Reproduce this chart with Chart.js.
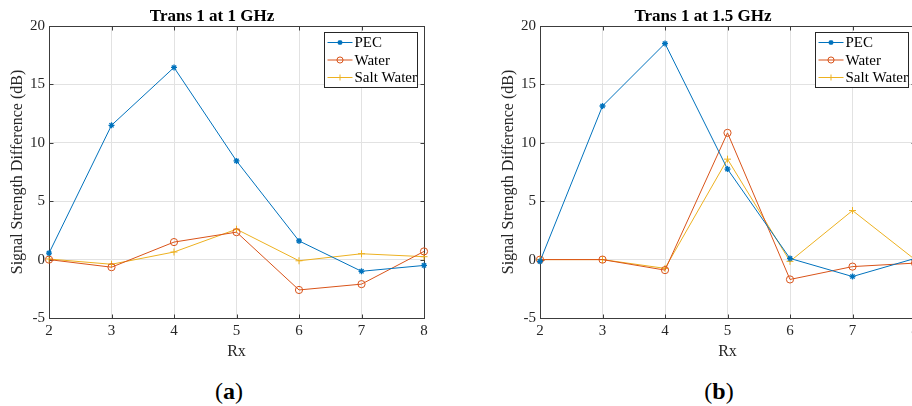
<!DOCTYPE html>
<html>
<head>
<meta charset="utf-8">
<script src="https://cdn.jsdelivr.net/npm/chart.js@4.4.0/dist/chart.umd.min.js"></script>
<style>
  body { margin: 0; width: 912px; height: 406px; overflow: hidden; background: #fff; position: relative; }
  canvas { position: absolute; top: 0; }
  #chartA { left: 0; }
  #chartB { left: 491px; }
  .caption { position: absolute; top: 379px; width: 60px; text-align: center; font-family: "Liberation Serif", serif; font-weight: normal; font-size: 24px; line-height: 24px; color: #000; }
</style>
</head>
<body>
<canvas id="chartA" width="440" height="370"></canvas>
<canvas id="chartB" width="440" height="370"></canvas>
<div class="caption" style="left:199px">(<b>a</b>)</div>
<div class="caption" style="left:689px">(<b>b</b>)</div>
<script>
// data
const rxLabels = [2, 3, 4, 5, 6, 7, 8];
const yTicks = [-5, 0, 5, 10, 15, 20];
const seriesNames = ['PEC', 'Water', 'Salt Water'];

// Trans 1 at 1 GHz
const pec1 = [0.55, 11.5, 16.45, 8.45, 1.6, -1.0, -0.5];
const water1 = [0, -0.65, 1.5, 2.35, -2.6, -2.1, 0.7];
const salt1 = [0.05, -0.4, 0.65, 2.6, -0.1, 0.5, 0.25];

// Trans 1 at 1.5 GHz
const pec15 = [-0.15, 13.15, 18.5, 7.75, 0.1, -1.45, 0.1];
const water15 = [0, 0, -0.9, 10.85, -1.7, -0.6, -0.3];
const salt15 = [0, 0, -0.75, 8.6, -0.15, 4.2, 0];

const FONT = '"Liberation Serif", "Times New Roman", serif';
const colors = ['#0072BD', '#D95319', '#EDB120'];
const markers = [
    { pointStyle: 'star', radius: 3, borderWidth: 1.3 },
    { pointStyle: 'circle', radius: 3.6, borderWidth: 1 },
    { pointStyle: 'cross', radius: 3.5, borderWidth: 1 }
];

// matlab style box with inward tick marks
const boxPlugin = {
    id: 'matlabBox',
    beforeDatasetsDraw(chart) {
        const { ctx, chartArea: a, scales } = chart;
        const L = Math.round(a.left) + 0.5, R = Math.round(a.right) + 0.5;
        const T = Math.round(a.top) + 0.5, B = Math.round(a.bottom) + 0.5;
        ctx.save();
        ctx.strokeStyle = '#3c3c3c';
        ctx.lineWidth = 1;
        ctx.beginPath();
        scales.x.ticks.forEach(t => {
            const px = Math.round(scales.x.getPixelForValue(t.value)) + 0.5;
            ctx.moveTo(px, B); ctx.lineTo(px, B - 4);
            ctx.moveTo(px, T); ctx.lineTo(px, T + 4);
        });
        scales.y.ticks.forEach(t => {
            const py = Math.round(scales.y.getPixelForValue(t.value)) + 0.5;
            ctx.moveTo(L, py); ctx.lineTo(L + 4, py);
            ctx.moveTo(R, py); ctx.lineTo(R - 4, py);
        });
        ctx.stroke();
        ctx.strokeRect(L, T, R - L, B - T);
        ctx.restore();
    }
};

// legend box in the upper right corner
const legendPlugin = {
    id: 'boxLegend',
    afterDatasetsDraw(chart) {
        const { ctx, chartArea: a } = chart;
        const w = 93, h = 55;
        const x0 = Math.round(a.right - 7 - w) + 0.5, y0 = Math.round(a.top + 6) + 0.5;
        ctx.save();
        ctx.fillStyle = '#fff';
        ctx.fillRect(x0, y0, w, h);
        ctx.strokeStyle = '#262626';
        ctx.lineWidth = 1;
        ctx.strokeRect(x0, y0, w, h);
        chart.data.datasets.forEach((ds, i) => {
            const cy = y0 + 10 + i * 17.5;
            ctx.strokeStyle = ds.borderColor;
            ctx.lineWidth = 1;
            ctx.beginPath();
            ctx.moveTo(x0 + 3, cy);
            ctx.lineTo(x0 + 28, cy);
            ctx.stroke();
            ctx.fillStyle = ds.pointBackgroundColor;
            ctx.lineWidth = markers[i].borderWidth;
            Chart.helpers.drawPoint(ctx, { pointStyle: markers[i].pointStyle, radius: markers[i].radius * 0.85, rotation: 0, borderWidth: markers[i].borderWidth }, x0 + 15.5, cy);
            ctx.fillStyle = '#000';
            ctx.font = '15px ' + FONT;
            ctx.textBaseline = 'middle';
            ctx.textAlign = 'left';
            ctx.fillText(ds.label, x0 + 30, cy + 1);
        });
        ctx.restore();
    }
};

function makeChart(id, title, pec, water, salt) {
    const series = [pec, water, salt];
    const datasets = series.map((vals, i) => ({
        label: seriesNames[i],
        data: vals.map((v, k) => ({ x: rxLabels[k], y: v })),
        borderColor: colors[i],
        backgroundColor: colors[i],
        pointBackgroundColor: i === 1 ? 'rgba(0,0,0,0)' : colors[i],
        pointBorderColor: colors[i],
        pointStyle: markers[i].pointStyle,
        pointRadius: markers[i].radius,
        pointBorderWidth: markers[i].borderWidth,
        borderWidth: 1,
        tension: 0,
        clip: false
    }));
    return new Chart(document.getElementById(id), {
        type: 'line',
        data: { datasets: datasets },
        options: {
            responsive: false,
            animation: false,
            layout: { padding: { left: 0, right: 16, top: 0, bottom: 0 } },
            plugins: {
                legend: { display: false },
                tooltip: { enabled: false },
                title: {
                    display: true,
                    text: title,
                    color: '#000',
                    font: { family: FONT, size: 17, weight: 'bold', lineHeight: 1 },
                    padding: { top: 8.5, bottom: 0.5 }
                }
            },
            scales: {
                x: {
                    type: 'linear',
                    min: 2,
                    max: 8,
                    afterBuildTicks: s => { s.ticks = rxLabels.map(v => ({ value: v })); },
                    afterFit: s => { s.height = 52; },
                    ticks: { color: '#262626', font: { family: FONT, size: 15 }, padding: 4.5 },
                    grid: { color: '#e2e2e2', drawTicks: false },
                    border: { display: false },
                    title: {
                        display: true,
                        text: 'Rx',
                        color: '#262626',
                        font: { family: FONT, size: 16 },
                        padding: { top: 0, bottom: 8.4 }
                    }
                },
                y: {
                    min: -5,
                    max: 20,
                    afterBuildTicks: s => { s.ticks = yTicks.map(v => ({ value: v })); },
                    afterFit: s => { s.width = 49; },
                    ticks: { color: '#262626', font: { family: FONT, size: 15 }, padding: 4 },
                    grid: { color: '#e2e2e2', drawTicks: false },
                    border: { display: false },
                    title: {
                        display: true,
                        text: 'Signal Strength Difference (dB)',
                        color: '#262626',
                        font: { family: FONT, size: 16 },
                        padding: { top: 7.9, bottom: 0 }
                    }
                }
            }
        },
        plugins: [boxPlugin, legendPlugin]
    });
}

makeChart('chartA', 'Trans 1 at 1 GHz', pec1, water1, salt1);
makeChart('chartB', 'Trans 1 at 1.5 GHz', pec15, water15, salt15);
</script>
</body>
</html>
